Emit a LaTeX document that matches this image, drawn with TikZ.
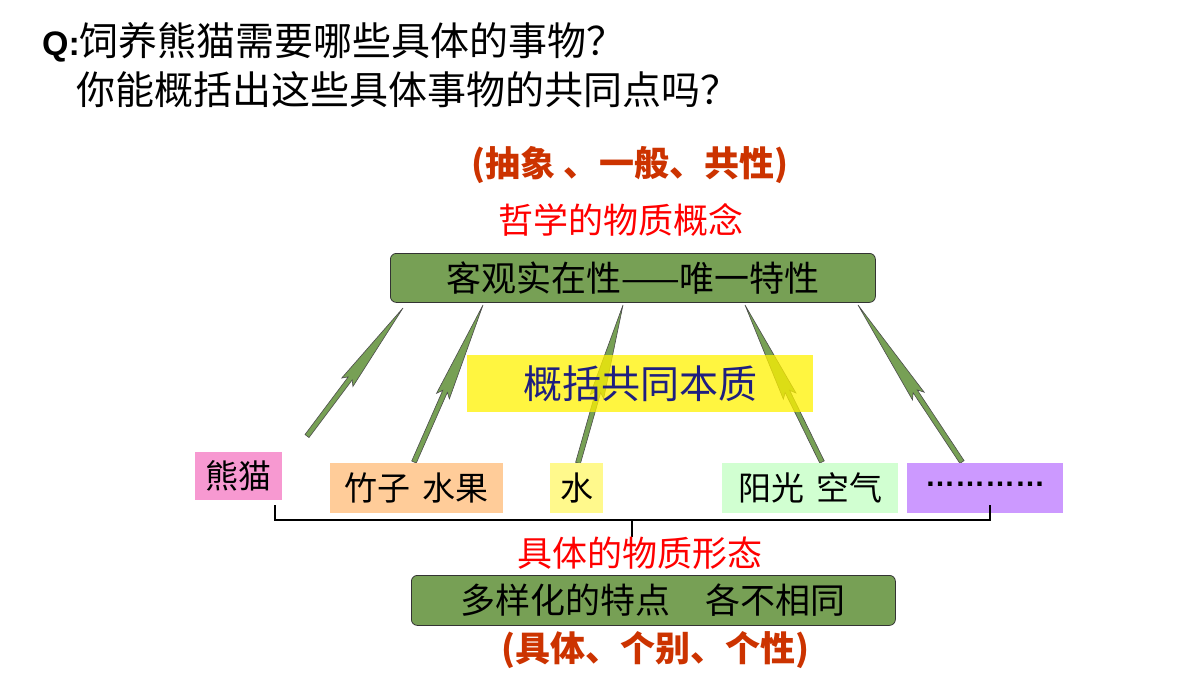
\documentclass[tikz,border=0pt]{standalone}
\usepackage{fontspec}
\setmainfont{Noto Sans CJK SC}
\newfontfamily\lat{Liberation Sans}
\usetikzlibrary{calc}
\definecolor{gbox}{HTML}{77A055}
\definecolor{redt}{HTML}{CC3300}
\definecolor{navy}{HTML}{1F1F80}
\definecolor{lav}{HTML}{CC99FF}
\tikzset{
  gb/.style={draw=black!80,line width=0.8pt,fill=gbox,rounded corners=6pt,anchor=north west,inner sep=0pt},
  sb/.style={anchor=north west,inner sep=0pt},
}
\newcommand{\fs}[1]{\fontsize{#1}{#1}\selectfont}
\newcommand{\garrow}[2]{%
 \fill[gbox,draw=black!70,line width=0.6pt]
  ($(#1)!2.5pt!90:(#2)$) -- ($($(#1)!0.45!(#2)$)!2.5pt!90:(#2)$) -- ($($(#1)!0.42!(#2)$)!7pt!90:(#2)$) -- (#2)
  -- ($($(#1)!0.42!(#2)$)!7pt!-90:(#2)$) -- ($($(#1)!0.45!(#2)$)!2.5pt!-90:(#2)$) -- ($(#1)!2.5pt!-90:(#2)$) -- cycle;}
\begin{document}
\begin{tikzpicture}[x=1pt,y=-1pt]
\useasboundingbox (0,0) rectangle (1200,675);
\fill[white] (0,0) rectangle (1200,675);
\node[anchor=west,inner sep=0pt] (q1) at (42,42) {{\lat\bfseries\fs{34}Q:}\fs{39}饲养熊猫需要哪些具体的事物？};
\node[anchor=west,inner sep=0pt] (q2) at (76,90) {\fs{39}你能概括出这些具体事物的共同点吗？};
\node[inner sep=0pt,text=redt] (r1) at (630,165) {\fs{35}\bfseries (抽象 、一般、共性)};
\node[inner sep=0pt,text=red] (r2) at (621,220) {\fs{35}哲学的物质概念};
% top box
\node[gb,minimum width=485pt,minimum height=49pt] (top) at (390,253) {};
\node (toptx) at (top.center) {\fs{35}客观实在性——唯一特性};
% coordinates for arrows
\coordinate (t1) at (403,308); \coordinate (b1) at (307,436);
\coordinate (t2) at (483,305); \coordinate (b2) at (414,462);
\coordinate (t3) at (623,305); \coordinate (b3) at (578,463);
\coordinate (t4) at (745,305); \coordinate (b4) at (822,462);
\coordinate (t5) at (858,305); \coordinate (b5) at (962,462);
\garrow{b1}{t1}\garrow{b2}{t2}\garrow{b3}{t3}\garrow{b4}{t4}\garrow{b5}{t5}
% yellow box
\node[sb,fill=yellow,fill opacity=0.75,minimum width=346pt,minimum height=57pt] (yb) at (467,355) {};
\node[text=navy] at (yb.center) {\fs{39}概括共同本质};
% small boxes
\node[sb,fill=magenta!40,minimum width=87pt,minimum height=48pt] (p) at (195,452) {};
\node at (p.center) {\fs{33}熊猫};
\node[sb,fill=orange!40,minimum width=173pt,minimum height=50pt] (bz) at (330,463) {};
\node at (bz.center) {\fs{33}竹子\hspace{12pt}水果};
\node[sb,fill=yellow!45,minimum width=53pt,minimum height=50pt] (w) at (550,463) {};
\node at (w.center) {\fs{33}水};
\node[sb,fill=green!18,minimum width=176pt,minimum height=50pt] (sun) at (722,463) {};
\node at (sun.center) {\fs{33}阳光\hspace{12pt}空气};
\node[sb,fill=lav,minimum width=156pt,minimum height=50pt] (dots) at (907,463) {};
\node at ($(dots.center)+(0,-4)$) {\lat\bfseries\fs{30}…………};
% bracket
\coordinate (bl) at (275,505); \coordinate (br) at (990,505); \coordinate (bm) at (632,537);
\draw[line width=1.5pt] (bl) -- ++(0,15) -| (br);
\draw[line width=1.5pt] (bm) -- ++(0,-17);
\node[inner sep=0pt,text=red] (r3) at (640,553) {\fs{35}具体的物质形态};
\node[gb,minimum width=484pt,minimum height=50pt] (bot) at (411,575) {};
\node at (bot.center) {\fs{35}多样化的特点\quad 各不相同};
\node[inner sep=0pt,text=redt] (r4) at (655,650) {\fs{35}\bfseries (具体、个别、个性)};
\end{tikzpicture}
\end{document}
